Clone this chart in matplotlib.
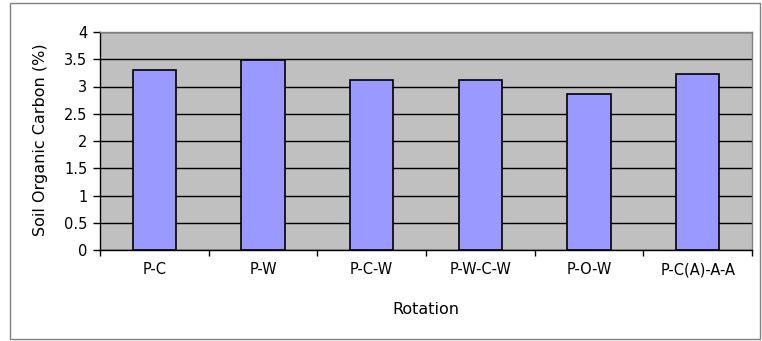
import matplotlib.pyplot as plt
import numpy as np
from matplotlib.patches import Rectangle

# soil organic carbon by crop rotation
rotations = ["P-C", "P-W", "P-C-W", "P-W-C-W", "P-O-W", "P-C(A)-A-A"]
soc = [3.30, 3.48, 3.12, 3.12, 2.86, 3.23]
yticks = [0, 0.5, 1, 1.5, 2, 2.5, 3, 3.5, 4]
ytick_labels = ["0", "0.5", "1", "1.5", "2", "2.5", "3", "3.5", "4"]

plt.rcParams['font.family'] = ['DejaVu Sans']

W, H = 762, 341
fig = plt.figure(figsize=(W / 100, H / 100), dpi=100)
# plot area in pixels: x 100..752, y 32..250
ax = fig.add_axes([100 / W, 1 - 250 / H, 652 / W, 218 / H])

x = np.arange(len(rotations))
ax.bar(x, soc, width=0.4, color="#9999FF", edgecolor="black", linewidth=1.2, zorder=3)

ax.set_facecolor("#C0C0C0")
ax.set_xlim(-0.5, len(rotations) - 0.5)
ax.set_ylim(0, 4)
ax.set_yticks(yticks)
ax.set_yticklabels(ytick_labels, fontsize=10.5)
ax.yaxis.grid(True, color="black", linewidth=1.0, zorder=0)
ax.set_axisbelow(True)

# category labels in the middle, tick marks between categories
ax.set_xticks(x)
ax.set_xticklabels(rotations, fontsize=10.5)
ax.tick_params(axis="x", length=0, pad=9)
ax.set_xticks(np.arange(-0.5, len(rotations)), minor=True)
ax.tick_params(axis="x", which="minor", length=4, width=1, direction="out", color="black")
ax.tick_params(axis="y", length=5, width=1, direction="out", pad=4)

for side in ["top", "right"]:
    ax.spines[side].set_color("#808080")
    ax.spines[side].set_linewidth(1.0)
for side in ["left", "bottom"]:
    ax.spines[side].set_color("black")
    ax.spines[side].set_linewidth(1.0)

fig.text(41 / W, 1 - 140 / H, "Soil Organic Carbon (%)", rotation=90,
         ha="center", va="center", fontsize=11.5)
fig.text(426 / W, 1 - 309 / H, "Rotation", ha="center", va="center", fontsize=11.5)

# chart area border
fig.patches.append(Rectangle((10 / W, 1 - 339 / H), 750 / W, 336 / H, transform=fig.transFigure,
                             fill=False, edgecolor="#808080", linewidth=1.0))

fig.savefig("out.png", dpi=100)
